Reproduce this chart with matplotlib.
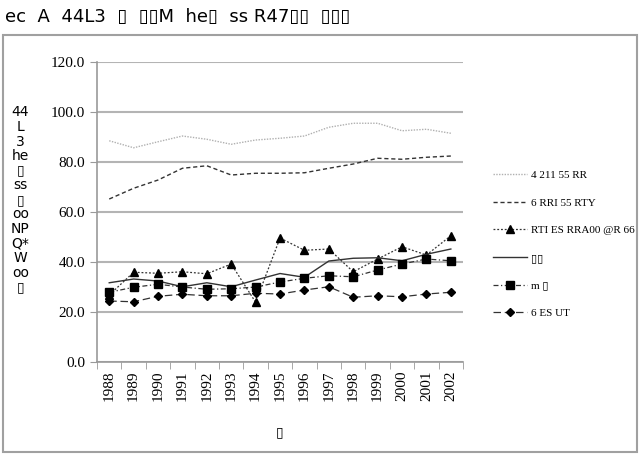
import matplotlib
matplotlib.use('Agg')
import matplotlib.pyplot as plt
from matplotlib.patches import Rectangle
import numpy as np

# data
years = ['1988', '1989', '1990', '1991', '1992', '1993', '1994', '1995',
         '1996', '1997', '1998', '1999', '2000', '2001', '2002']
s_top = [88.5, 85.7, 88.1, 90.4, 89.1, 87.1, 88.8, 89.5, 90.4, 93.9, 95.5, 95.5, 92.5, 93.1, 91.5]
s_dash = [65.2, 69.5, 72.8, 77.5, 78.5, 74.8, 75.5, 75.5, 75.7, 77.5, 79.2, 81.5, 81.1, 81.9, 82.4]
s_tri = [26.8, 35.9, 35.5, 36.1, 35.3, 39.2, 23.9, 49.6, 44.7, 45.2, 36.1, 41.2, 46.1, 42.8, 50.5]
s_solid = [31.7, 33.2, 32.4, 30.1, 31.7, 30.1, 32.8, 35.4, 33.9, 40.4, 41.5, 41.7, 40.5, 43.1, 45.2]
s_sq = [27.9, 29.9, 31.1, 30.0, 29.1, 29.3, 30.0, 32.0, 33.5, 34.5, 34.1, 36.8, 39.2, 41.2, 40.5]
s_dia = [24.4, 24.1, 26.3, 27.1, 26.5, 26.5, 27.5, 27.2, 28.8, 30.1, 25.9, 26.5, 26.1, 27.2, 27.9]

labels = ['4 211 55 RR', '6 RRI 55 RTY', 'RTI ES RRA00 @R 66', '\u25af\u25af', 'm \u25af', '6 ES UT']
yticks = [0, 20, 40, 60, 80, 100, 120]

fig = plt.figure(figsize=(6.4, 4.54), dpi=100)
ax = fig.add_axes([0.1516, 0.2026, 0.5719, 0.6608])

x = np.arange(len(years))
ax.plot(x, s_top, color='#b0b0b0', linestyle=(0, (1, 1)), linewidth=1.0, label=labels[0])
ax.plot(x, s_dash, color='#333333', linestyle=(0, (3, 2)), linewidth=1.0, label=labels[1])
ax.plot(x, s_tri, color='#333333', linestyle=(0, (1.5, 1.5)), linewidth=0.9,
        marker='^', markersize=6, markerfacecolor='black', markeredgecolor='black', label=labels[2])
ax.plot(x, s_solid, color='#333333', linestyle='-', linewidth=1.0, label=labels[3])
ax.plot(x, s_sq, color='#333333', linestyle=(0, (4, 2, 1, 2)), linewidth=0.9,
        marker='s', markersize=6, markerfacecolor='black', markeredgecolor='black', label=labels[4])
ax.plot(x, s_dia, color='#333333', linestyle=(0, (6, 3)), linewidth=0.9,
        marker='D', markersize=4, markerfacecolor='black', markeredgecolor='black', label=labels[5])

ax.set_xlim(-0.5, len(years) - 0.5)
ax.set_ylim(0, 120)
ax.set_yticks(yticks)
ax.set_yticklabels([f'{v:.1f}' for v in yticks], fontsize=11, family='Liberation Serif')
ax.set_xticks(x)
ax.set_xticklabels(years, rotation=90, fontsize=11, family='Liberation Serif')
ax.set_xticks(np.arange(-0.5, len(years), 1), minor=True)
ax.tick_params(axis='x', which='major', length=0, pad=6)
ax.tick_params(axis='x', which='minor', length=5, color='#999999')
ax.tick_params(axis='y', length=5, color='#999999')

ax.grid(axis='y', color='#b4b4b4', linewidth=1.5)
ax.set_axisbelow(True)
for side in ['top', 'right']:
    ax.spines[side].set_visible(False)
for side in ['left', 'bottom']:
    ax.spines[side].set_color('#999999')
    ax.spines[side].set_linewidth(1.2)

fig.legend(loc='center left', bbox_to_anchor=(0.755, 0.462), frameon=False,
           prop={'family': ['Liberation Serif', 'DejaVu Sans'], 'size': 8},
           handlelength=3.0, labelspacing=1.6, handletextpad=0.4)

# title, axis labels
fig.text(0.008, 0.9626, 'ec  A  44L3  \u25af  \u25af\u25afM  he\u25af  ss R47\u25af\u25af  \u25af\u25af\u25af',
         fontsize=13, va='center', ha='left')
fig.text(0.4375, 0.0485, '\u25af', fontsize=10, ha='center', va='center')
fig.text(0.032, 0.56, '44\nL\n3\nhe\n\u25af\nss\n\u25af\noo\nNP\nQ*\nW\noo\n\u25af',
         fontsize=10, ha='center', va='center', linespacing=1.05)

# outer chart border
fig.patches.append(Rectangle((0.0047, 0.0044), 0.9903, 0.9186, transform=fig.transFigure,
                             fill=False, edgecolor='#a0a0a0', linewidth=1.5))

plt.savefig('out.png', dpi=100)
